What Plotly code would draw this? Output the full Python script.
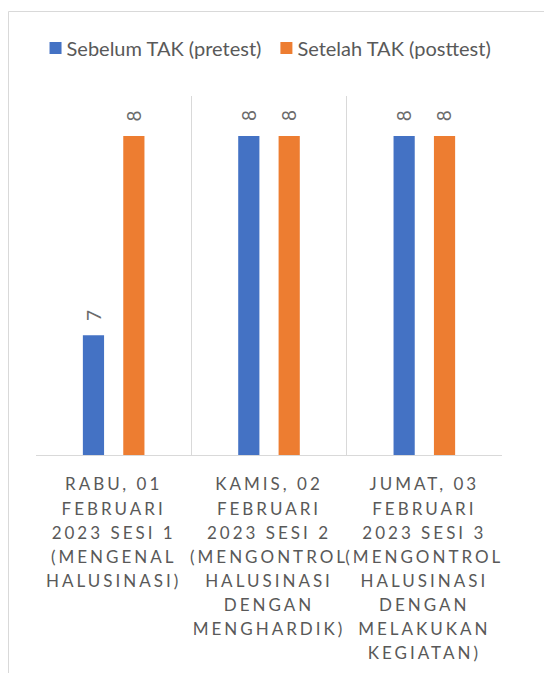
import plotly.graph_objects as go

categories = [
    "RABU, 01 FEBRUARI 2023 SESI 1 (MENGENAL HALUSINASI)",
    "KAMIS, 02 FEBRUARI 2023 SESI 2 (MENGONTROL HALUSINASI DENGAN MENGHARDIK)",
    "JUMAT, 03 FEBRUARI 2023 SESI 3 (MENGONTROL HALUSINASI DENGAN MELAKUKAN KEGIATAN)",
]
tick_labels = [
    "RABU, 01<br>FEBRUARI<br>2023 SESI 1<br>(MENGENAL<br>HALUSINASI)",
    "KAMIS, 02<br>FEBRUARI<br>2023 SESI 2<br>(MENGONTROL<br>HALUSINASI<br>DENGAN<br>MENGHARDIK)",
    "JUMAT, 03<br>FEBRUARI<br>2023 SESI 3<br>(MENGONTROL<br>HALUSINASI<br>DENGAN<br>MELAKUKAN<br>KEGIATAN)",
]
series_names = ["Sebelum TAK (pretest)", "Setelah TAK (posttest)"]
pretest = [7, 8, 8]
posttest = [8, 8, 8]

colors = ["#4472C4", "#ED7D31"]
FONT = "Lato"
GRAY = "#595959"

W, H = 544, 673
L, R, T, B = 36, 42, 96, 218
pw, ph = W - L - R, H - T - B

fig = go.Figure()
for name, vals, col in zip(series_names, [pretest, posttest], colors):
    fig.add_trace(go.Bar(x=categories, y=vals, name=name, marker_color=col,
                         marker_line_width=0))

annotations = []
for vals, shift in zip([pretest, posttest], [-20, 20]):
    for c, v in zip(categories, vals):
        annotations.append(dict(x=c, y=v, xref="x", yref="y", text=str(v),
                                showarrow=False, textangle=-90, xshift=shift,
                                yshift=20, yanchor="middle", xanchor="center",
                                font=dict(family=FONT, size=19, color="#6b6b6b")))


def px_x(p):
    return (p - L) / pw


def px_y(p):
    return (H - B - p) / ph


# chart border (cropped at right/bottom like the reference)
border = "#D9D9D9"
shapes = [
    dict(type="rect", xref="paper", yref="paper", x0=px_x(8.5), x1=px_x(W + 20),
         y0=px_y(H + 20), y1=px_y(11.5), line=dict(color=border, width=1),
         fillcolor="rgba(0,0,0,0)", layer="above"),
]

fig.update_layout(
    width=W, height=H,
    margin=dict(l=L, r=R, t=T, b=B, pad=0, autoexpand=False),
    paper_bgcolor="white", plot_bgcolor="white",
    barmode="group", bargap=0.48, bargroupgap=0.475,
    showlegend=True,
    legend=dict(orientation="h", x=-0.001, xanchor="left",
                y=px_y(48), yanchor="middle",
                font=dict(family=FONT, size=20, color=GRAY),
                itemwidth=30, tracegroupgap=0, bgcolor="rgba(0,0,0,0)"),
    xaxis=dict(tickmode="array", tickvals=categories, ticktext=tick_labels,
               tickson="boundaries", showgrid=True, gridcolor=border,
               gridwidth=1, ticks="", showline=True, linecolor=border,
               linewidth=1, mirror=False, ticklabelstandoff=14,
               tickfont=dict(family=FONT, size=17, color=GRAY),
               range=[-0.5, 2.5], fixedrange=True),
    yaxis=dict(range=[6.4, 8.2], visible=False, showgrid=False,
               zeroline=False, fixedrange=True),
    annotations=annotations,
    shapes=shapes,
)

post = """
document.body.style.margin='0';
var st=document.createElement('style');
st.textContent='.xtick text{letter-spacing:3px;}';
document.head.appendChild(st);
document.querySelectorAll('.xtick text tspan.line').forEach(function(t){
  var d=t.getAttribute('dy');
  if(d){var v=parseFloat(d); t.setAttribute('dy',(v/1.3*1.42)+'em');}
});
document.querySelectorAll('.legend .traces').forEach(function(g,i){
  var tx=g.querySelector('.legendtext');
  if(tx){tx.setAttribute('x', parseFloat(tx.getAttribute('x'))-9);}
  var tr=g.getAttribute('transform')||'';
  var m=/translate\\(([-\\d.]+)[ ,]+([-\\d.]+)\\)/.exec(tr);
  if(m){g.setAttribute('transform','translate('+(parseFloat(m[1])-9*i)+','+m[2]+')');}
});
"""
fig.write_html("out.html", post_script=post, config={"displayModeBar": False})
